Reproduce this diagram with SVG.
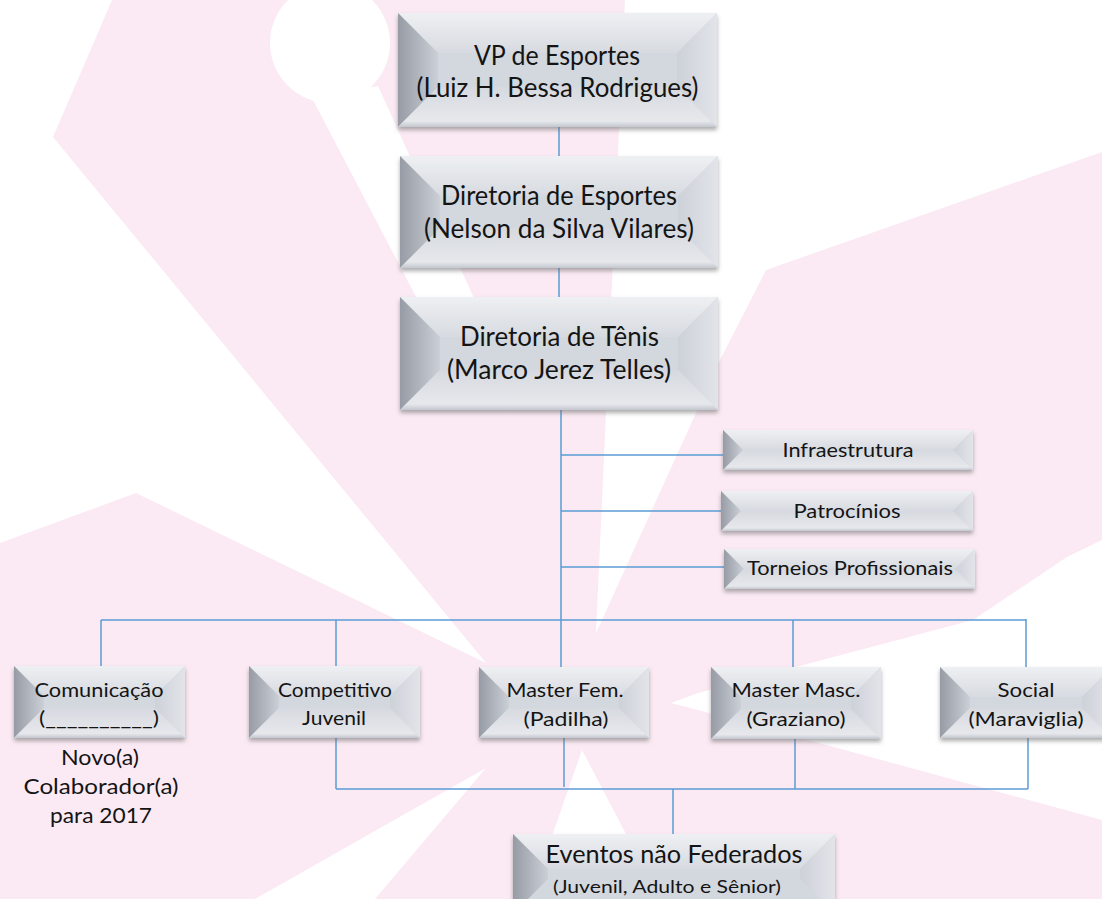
<svg xmlns="http://www.w3.org/2000/svg" width="1102" height="899" viewBox="0 0 1102 899">
<defs>
<linearGradient id="gL" x1="0" y1="0" x2="1" y2="0"><stop offset="0" stop-color="#969ba5"/><stop offset="1" stop-color="#cbcfd6"/></linearGradient>
<linearGradient id="gR" x1="1" y1="0" x2="0" y2="0"><stop offset="0" stop-color="#e2e4e9"/><stop offset="1" stop-color="#cdd1d8"/></linearGradient>
<linearGradient id="gT" x1="0" y1="0" x2="0" y2="1"><stop offset="0" stop-color="#eef0f3"/><stop offset="1" stop-color="#d7dae0"/></linearGradient>
<linearGradient id="gB" x1="0" y1="1" x2="0" y2="0"><stop offset="0" stop-color="#c3c7ce"/><stop offset="0.15" stop-color="#e6e8ec"/><stop offset="1" stop-color="#d6d9df"/></linearGradient>
<filter id="sh" x="-10%" y="-10%" width="120%" height="140%"><feDropShadow dx="0" dy="3" stdDeviation="2" flood-color="#6b6b6b" flood-opacity="0.55"/></filter>
<style>
.face{fill:#d3d7de}
.l{fill:url(#gL)}
.r{fill:url(#gR)}
.t{fill:url(#gT)}
.b{fill:url(#gB)}
.bx{filter:url(#sh)}
text{font-family:Lato,"Open Sans","Liberation Sans",sans-serif;fill:#141414;text-anchor:middle}
.big{font-size:26px}
.sm{font-size:19px}
.md{font-size:20px}
.nt{font-size:22px}
.ev{font-size:25px}
.ev2{font-size:17px}
.con path{fill:none;stroke:#5b9bd5;stroke-width:1.5}
</style>
</defs>
<rect width="1102" height="899" fill="#fbeaf3"/>
<g id="background" fill="#ffffff">
<polygon points="0,0 112,0 53,137 486,663 136,493 0,543"/>
<circle cx="330" cy="43" r="60"/>
<polygon points="312,98 378,86 520,400 470,400"/>
<polygon points="625,0 1102,0 1102,152 766,270 720,360 596,633 606,413"/>
<polygon points="486,768 255,899 375,899"/>
<polygon points="582,750 530,899 660,899"/>
<polygon points="671,703 698,693 973,620 1067,557 1102,540 1102,820 698,710"/>
</g>
<g id="connectors" class="con">
<path d="M559,127V156"/>
<path d="M559,268V297"/>
<path d="M561,410V667"/>
<path d="M561,455H723"/>
<path d="M561,511H721"/>
<path d="M561,567H724"/>
<path d="M101,620H1026"/>
<path d="M101,620V666"/>
<path d="M336,620V666"/>
<path d="M793,620V667"/>
<path d="M1026,619V667"/>
<path d="M336,738V789"/>
<path d="M564,738V787"/>
<path d="M795,739V789"/>
<path d="M1028,738V789"/>
<path d="M336,789H1028"/>
<path d="M673,789V834"/>
</g>
<g id="vp">
<g class="bx"><rect class="face" x="398" y="13" width="319" height="114"/>
<polygon class="t" points="398,13 717,13 677,53 438,53"/>
<polygon class="l" points="398,13 438,53 438,87 398,127"/>
<polygon class="r" points="717,13 717,127 677,87 677,53"/>
<polygon class="b" points="398,127 717,127 677,87 438,87"/>
<rect class="face" x="438" y="53" width="239" height="34"/></g>
<text class="big" x="557" y="65" textLength="166" lengthAdjust="spacingAndGlyphs">VP de Esportes</text>
<text class="big" x="557.5" y="97" textLength="282" lengthAdjust="spacingAndGlyphs">(Luiz H. Bessa Rodrigues)</text>
</g>
<g id="dir-esportes">
<g class="bx"><rect class="face" x="400" y="156" width="318" height="112"/>
<polygon class="t" points="400,156 718,156 678,196 440,196"/>
<polygon class="l" points="400,156 440,196 440,228 400,268"/>
<polygon class="r" points="718,156 718,268 678,228 678,196"/>
<polygon class="b" points="400,268 718,268 678,228 440,228"/>
<rect class="face" x="440" y="196" width="238" height="32"/></g>
<text class="big" x="559" y="205" textLength="236" lengthAdjust="spacingAndGlyphs">Diretoria de Esportes</text>
<text class="big" x="559" y="238" textLength="270" lengthAdjust="spacingAndGlyphs">(Nelson da Silva Vilares)</text>
</g>
<g id="dir-tenis">
<g class="bx"><rect class="face" x="400" y="297" width="318" height="113"/>
<polygon class="t" points="400,297 718,297 678,337 440,337"/>
<polygon class="l" points="400,297 440,337 440,370 400,410"/>
<polygon class="r" points="718,297 718,410 678,370 678,337"/>
<polygon class="b" points="400,410 718,410 678,370 440,370"/>
<rect class="face" x="440" y="337" width="238" height="33"/></g>
<text class="big" x="559.5" y="346" textLength="199" lengthAdjust="spacingAndGlyphs">Diretoria de Tênis</text>
<text class="big" x="559" y="379" textLength="224" lengthAdjust="spacingAndGlyphs">(Marco Jerez Telles)</text>
</g>
<g id="infraestrutura">
<g class="bx"><rect class="face" x="723" y="430" width="250" height="40"/>
<polygon class="t" points="723,430 973,430 953,450 743,450"/>
<polygon class="l" points="723,430 743,450 723,470"/>
<polygon class="r" points="973,430 973,470 953,450"/>
<polygon class="b" points="723,470 973,470 953,450 743,450"/></g>
<text class="sm" x="848" y="457" textLength="131" lengthAdjust="spacingAndGlyphs">Infraestrutura</text>
</g>
<g id="patrocinios">
<g class="bx"><rect class="face" x="721" y="491" width="252" height="40"/>
<polygon class="t" points="721,491 973,491 953,511 741,511"/>
<polygon class="l" points="721,491 741,511 721,531"/>
<polygon class="r" points="973,491 973,531 953,511"/>
<polygon class="b" points="721,531 973,531 953,511 741,511"/></g>
<text class="sm" x="847" y="518" textLength="107" lengthAdjust="spacingAndGlyphs">Patrocínios</text>
</g>
<g id="torneios">
<g class="bx"><rect class="face" x="724" y="549" width="251" height="40"/>
<polygon class="t" points="724,549 975,549 955,569 744,569"/>
<polygon class="l" points="724,549 744,569 724,589"/>
<polygon class="r" points="975,549 975,589 955,569"/>
<polygon class="b" points="724,589 975,589 955,569 744,569"/></g>
<text class="sm" x="850" y="575" textLength="206" lengthAdjust="spacingAndGlyphs">Torneios Profissionais</text>
</g>
<g id="comunicacao">
<g class="bx"><rect class="face" x="14" y="666" width="171" height="72"/>
<polygon class="t" points="14,666 185,666 155,696 44,696"/>
<polygon class="l" points="14,666 44,696 44,708 14,738"/>
<polygon class="r" points="185,666 185,738 155,708 155,696"/>
<polygon class="b" points="14,738 185,738 155,708 44,708"/>
<rect class="face" x="44" y="696" width="111" height="12"/></g>
<text class="md" x="99" y="697" textLength="129" lengthAdjust="spacingAndGlyphs">Comunicação</text>
<text class="md" x="99" y="725" textLength="120" lengthAdjust="spacingAndGlyphs">(__________)</text>
</g>
<g id="novo-colaborador">
<text class="nt" x="100" y="765" textLength="78" lengthAdjust="spacingAndGlyphs">Novo(a)</text>
<text class="nt" x="101" y="794" textLength="155" lengthAdjust="spacingAndGlyphs">Colaborador(a)</text>
<text class="nt" x="101" y="823" textLength="102" lengthAdjust="spacingAndGlyphs">para 2017</text>
</g>
<g id="competitivo">
<g class="bx"><rect class="face" x="249" y="666" width="171" height="72"/>
<polygon class="t" points="249,666 420,666 390,696 279,696"/>
<polygon class="l" points="249,666 279,696 279,708 249,738"/>
<polygon class="r" points="420,666 420,738 390,708 390,696"/>
<polygon class="b" points="249,738 420,738 390,708 279,708"/>
<rect class="face" x="279" y="696" width="111" height="12"/></g>
<text class="md" x="335" y="697" textLength="114" lengthAdjust="spacingAndGlyphs">Competitivo</text>
<text class="md" x="334" y="725" textLength="64" lengthAdjust="spacingAndGlyphs">Juvenil</text>
</g>
<g id="master-fem">
<g class="bx"><rect class="face" x="479" y="667" width="170" height="71"/>
<polygon class="t" points="479,667 649,667 619,697 509,697"/>
<polygon class="l" points="479,667 509,697 509,708 479,738"/>
<polygon class="r" points="649,667 649,738 619,708 619,697"/>
<polygon class="b" points="479,738 649,738 619,708 509,708"/>
<rect class="face" x="509" y="697" width="110" height="11"/></g>
<text class="md" x="565" y="697" textLength="117" lengthAdjust="spacingAndGlyphs">Master Fem.</text>
<text class="md" x="566" y="726" textLength="85" lengthAdjust="spacingAndGlyphs">(Padilha)</text>
</g>
<g id="master-masc">
<g class="bx"><rect class="face" x="711" y="667" width="170" height="72"/>
<polygon class="t" points="711,667 881,667 851,697 741,697"/>
<polygon class="l" points="711,667 741,697 741,709 711,739"/>
<polygon class="r" points="881,667 881,739 851,709 851,697"/>
<polygon class="b" points="711,739 881,739 851,709 741,709"/>
<rect class="face" x="741" y="697" width="110" height="12"/></g>
<text class="md" x="796" y="697" textLength="129" lengthAdjust="spacingAndGlyphs">Master Masc.</text>
<text class="md" x="796" y="726" textLength="99" lengthAdjust="spacingAndGlyphs">(Graziano)</text>
</g>
<g id="social">
<g class="bx"><rect class="face" x="940" y="667" width="172" height="71"/>
<polygon class="t" points="940,667 1112,667 1082,697 970,697"/>
<polygon class="l" points="940,667 970,697 970,708 940,738"/>
<polygon class="r" points="1112,667 1112,738 1082,708 1082,697"/>
<polygon class="b" points="940,738 1112,738 1082,708 970,708"/>
<rect class="face" x="970" y="697" width="112" height="11"/></g>
<text class="md" x="1026" y="697" textLength="57" lengthAdjust="spacingAndGlyphs">Social</text>
<text class="md" x="1026" y="726" textLength="115" lengthAdjust="spacingAndGlyphs">(Maraviglia)</text>
</g>
<g id="eventos">
<g class="bx"><rect class="face" x="513" y="834" width="322" height="80"/>
<polygon class="t" points="513,834 835,834 800,869 548,869"/>
<polygon class="l" points="513,834 548,869 548,879 513,914"/>
<polygon class="r" points="835,834 835,914 800,879 800,869"/>
<rect class="face" x="548" y="869" width="252" height="30"/></g>
<text class="ev" x="674" y="863" textLength="257" lengthAdjust="spacingAndGlyphs">Eventos não Federados</text>
<text class="ev2" x="667" y="893" textLength="228" lengthAdjust="spacingAndGlyphs">(Juvenil, Adulto e Sênior)</text>
</g>
</svg>
